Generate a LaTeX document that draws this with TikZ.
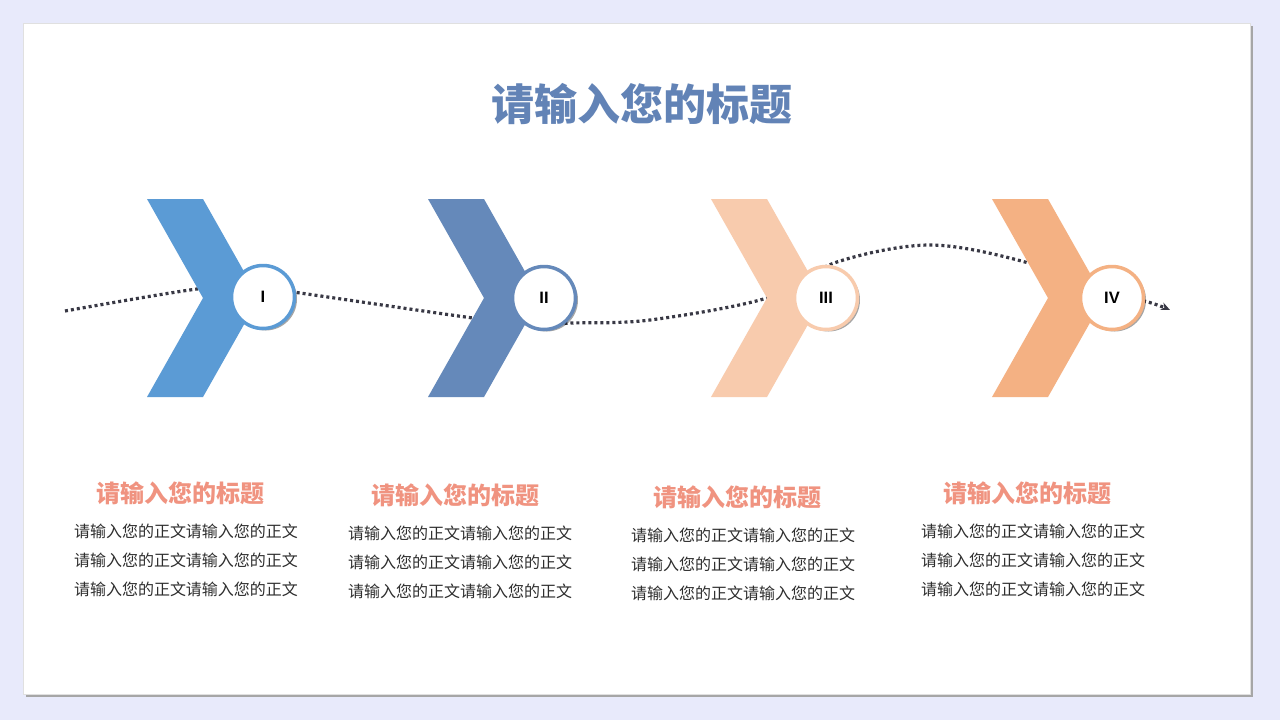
\documentclass[tikz,border=0pt]{standalone}
\usepackage{fontspec}
\setmainfont{Liberation Sans}
\newfontfamily\cjk{Noto Sans CJK SC}
\usetikzlibrary{shadows,arrows.meta}
\definecolor{bgc}{HTML}{E8EAFB}
\definecolor{cA}{HTML}{5B9BD5}
\definecolor{cB}{HTML}{6589BA}
\definecolor{cC}{HTML}{F8CBAD}
\definecolor{cD}{HTML}{F4B183}
\definecolor{titlec}{HTML}{6283B6}
\definecolor{subc}{HTML}{F09380}
\definecolor{textc}{HTML}{2E2E2E}
\definecolor{dotc}{HTML}{383844}
\tikzset{
  numcirc/.style={circle, minimum size=63pt, inner sep=0pt, line width=3.5pt, fill=white,
    font=\bfseries\fontsize{16.5}{16.5}\selectfont, text=black,
    drop shadow={shadow xshift=2.5pt, shadow yshift=-2pt, opacity=0.35, fill=black}},
  subtitle/.style={font=\cjk\bfseries\fontsize{24}{24}\selectfont, text=subc, inner sep=0pt},
  bodytext/.style={font=\cjk\fontsize{16}{29}\selectfont, text=textc, align=center, inner sep=0pt},
  dotline/.style={draw=dotc, line width=3.2pt, dash pattern=on 3pt off 3pt, line cap=butt},
}
\begin{document}
\begin{tikzpicture}[x=1pt,y=-1pt]
\useasboundingbox (0,0) rectangle (1280,720);
\fill[bgc] (0,0) rectangle (1280,720);
% card
\fill[black!35] (26,26) rectangle (1253,697);
\fill[white] (23,23) rectangle (1250,694);
\draw[black!12, line width=0.6pt] (23,23) rectangle (1250,694);
% title
\node[font=\cjk\bfseries\fontsize{43}{43}\selectfont, text=titlec] (title) at (642,104) {请输入您的标题};
% dotted path
\coordinate (p0) at (65,311);
\coordinate (p1) at (197,289);
\coordinate (p2) at (255,287);
\coordinate (p3) at (300,293);
\coordinate (p4) at (473,318);
\coordinate (p5) at (535,324);
\coordinate (p6) at (572,323);
\coordinate (p7) at (650,320);
\coordinate (p8) at (767,298);
\coordinate (p9) at (837,262);
\coordinate (p10) at (930,245);
\coordinate (p11) at (1025,262);
\coordinate (p12) at (1100,291);
\coordinate (p13) at (1148,302);
\coordinate (p14) at (1170,310);
\draw[dotline, -{Stealth[length=9pt,width=8pt]}] plot[smooth, tension=0.55] coordinates {(p0) (p1) (p2) (p3) (p4) (p5) (p6) (p7) (p8) (p9) (p10) (p11) (p12) (p13) (p14)};
% chevrons
\foreach \L/\c in {147/cA, 428/cB, 711/cC, 992/cD}{
  \fill[\c] (\L,199) -- ++(56,0) -- ++(56,99) -- ++(-56,99) -- ++(-56,0) -- ++(56,-99) -- cycle;
}
% circles
\node[numcirc, draw=cA] (n1) at (263,297) {I};
\node[numcirc, draw=cB] (n2) at (544,298) {II};
\node[numcirc, draw=cC] (n3) at (826,298) {III};
\node[numcirc, draw=cD] (n4) at (1112,298) {IV};
% text blocks
\node[subtitle] (s1) at (180,493) {请输入您的标题};
\node[bodytext] (b1) at (186,560) {请输入您的正文请输入您的正文\\请输入您的正文请输入您的正文\\请输入您的正文请输入您的正文};
\node[subtitle] (s2) at (455,495) {请输入您的标题};
\node[bodytext] (b2) at (460,562) {请输入您的正文请输入您的正文\\请输入您的正文请输入您的正文\\请输入您的正文请输入您的正文};
\node[subtitle] (s3) at (737,497) {请输入您的标题};
\node[bodytext] (b3) at (743,564.5) {请输入您的正文请输入您的正文\\请输入您的正文请输入您的正文\\请输入您的正文请输入您的正文};
\node[subtitle] (s4) at (1027,493) {请输入您的标题};
\node[bodytext] (b4) at (1033,560.5) {请输入您的正文请输入您的正文\\请输入您的正文请输入您的正文\\请输入您的正文请输入您的正文};
\end{tikzpicture}
\end{document}
